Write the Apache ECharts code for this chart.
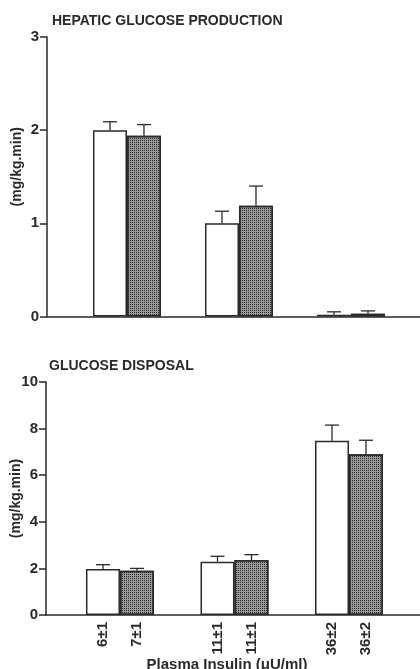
<!DOCTYPE html>
<html>
<head>
<meta charset="utf-8">
<script src="https://cdn.jsdelivr.net/npm/echarts@6/dist/echarts.min.js"></script>
<style>
html,body{margin:0;padding:0;background:#fff;}
#c{width:420px;height:669px;}
</style>
</head>
<body>
<div id="c"></div>
<script>
// ---- data ----
var groupIndex = [0, 1, 2];
var controlInsulin = ['6±1', '11±1', '36±2'];
var treatedInsulin = ['7±1', '11±1', '36±2'];
var hgpControl = [2.0, 1.0, 0.02];
var hgpControlSE = [0.09, 0.13, 0.03];
var hgpTreated = [1.94, 1.19, 0.03];
var hgpTreatedSE = [0.12, 0.21, 0.03];
var gdControl = [1.97, 2.29, 7.48];
var gdControlSE = [0.19, 0.23, 0.67];
var gdTreated = [1.9, 2.36, 6.9];
var gdTreatedSE = [0.1, 0.23, 0.6];
var topTitle = 'HEPATIC GLUCOSE PRODUCTION';
var bottomTitle = 'GLUCOSE DISPOSAL';
var yName = '(mg/kg.min)';
var xName = 'Plasma Insulin (μU/ml)';

// ---- styles ----
var FONT = '"Liberation Sans", Arial, sans-serif';
var INK = '#2a2a2a';
var BAR_W = 34;

function pairs(vals) { return groupIndex.map(function (g, i) { return [g, vals[i]]; }); }
function triples(vals, se) { return groupIndex.map(function (g, i) { return [g, vals[i], se[i]]; }); }

var hatch = {
  symbol: 'rect', symbolSize: 1, color: '#2a2a2a',
  dashArrayX: [1, 1], dashArrayY: [1, 1]
};

function barSeries(xi, vals, hatched, labels) {
  var s = {
    type: 'bar', xAxisIndex: xi, yAxisIndex: xi,
    data: pairs(vals), barWidth: BAR_W, barGap: '0%',
    itemStyle: {
      color: hatched ? '#9a9a9a' : '#ffffff',
      borderColor: INK, borderWidth: 1.5,
      decal: hatched ? hatch : null
    },
    silent: true, animation: false
  };
  if (labels) {
    s.label = {
      show: true, position: 'bottom', rotate: 90, align: 'right', verticalAlign: 'middle',
      distance: 7, color: INK, fontFamily: FONT, fontSize: 15, fontWeight: 'bold',
      formatter: function (p) { return labels[p.dataIndex]; }
    };
  }
  return s;
}

function errSeries(xi, vals, se, offset) {
  return {
    type: 'custom', xAxisIndex: xi, yAxisIndex: xi, silent: true, animation: false,
    data: triples(vals, se),
    renderItem: function (params, api) {
      var x = api.value(0), v = api.value(1), e = api.value(2);
      var b = api.coord([x, v]);
      var t = api.coord([x, v + e]);
      var cx = b[0] + offset;
      var st = { stroke: INK, lineWidth: 1.3 };
      return {
        type: 'group', children: [
          { type: 'line', shape: { x1: cx, y1: b[1], x2: cx, y2: t[1] }, style: st },
          { type: 'line', shape: { x1: cx - 7, y1: t[1], x2: cx + 7, y2: t[1] }, style: st }
        ]
      };
    }
  };
}

function yAxis(gi, max, interval, gap, namePad) {
  return {
    type: 'value', gridIndex: gi, min: 0, max: max, interval: interval,
    name: yName, nameLocation: 'middle', nameGap: gap, nameRotate: 90, nameMoveOverlap: false,
    nameTextStyle: { color: INK, fontFamily: FONT, fontSize: 14, fontWeight: 'bold', padding: namePad },
    axisLine: { show: true, onZero: false, lineStyle: { color: INK, width: 1.5 } },
    axisTick: { show: true, inside: false, length: 7, lineStyle: { color: INK, width: 1.5 } },
    axisLabel: { color: INK, fontFamily: FONT, fontSize: 15, fontWeight: 'bold', margin: 8 },
    splitLine: { show: false }
  };
}

function xAxis(gi, min, max) {
  return {
    type: 'value', gridIndex: gi, min: min, max: max,
    axisLine: { show: true, onZero: false, lineStyle: { color: INK, width: 1.5 } },
    axisTick: { show: false }, axisLabel: { show: false }, splitLine: { show: false }
  };
}

var chart = echarts.init(document.getElementById('c'), null, { renderer: 'canvas' });
chart.setOption({
  backgroundColor: '#ffffff',
  animation: false,
  title: [
    { text: topTitle, left: 47, top: 9, textStyle: { color: INK, fontFamily: FONT, fontSize: 14, fontWeight: 'bold' } },
    { text: bottomTitle, left: 44, top: 354, textStyle: { color: INK, fontFamily: FONT, fontSize: 14, fontWeight: 'bold' } },
    { text: xName, left: 222, top: 652, textAlign: 'center', textStyle: { color: INK, fontFamily: FONT, fontSize: 15, fontWeight: 'bold' } }
  ],
  grid: [
    { left: 47, right: 0, top: 37, height: 279.5, outerBoundsMode: 'none', containLabel: false },
    { left: 46, right: 0, top: 382, height: 233, outerBoundsMode: 'none', containLabel: false }
  ],
  xAxis: [xAxis(0, -0.714, 2.616), xAxis(1, -0.646, 2.62)],
  yAxis: [yAxis(0, 3, 1, 23, [0, 0, 0, 20]), yAxis(1, 10, 2, 23, 0)],
  series: [
    barSeries(0, hgpControl, false, null),
    barSeries(0, hgpTreated, true, null),
    errSeries(0, hgpControl, hgpControlSE, -BAR_W / 2),
    errSeries(0, hgpTreated, hgpTreatedSE, BAR_W / 2),
    barSeries(1, gdControl, false, controlInsulin),
    barSeries(1, gdTreated, true, treatedInsulin),
    errSeries(1, gdControl, gdControlSE, -BAR_W / 2),
    errSeries(1, gdTreated, gdTreatedSE, BAR_W / 2)
  ]
});
</script>
</body>
</html>
